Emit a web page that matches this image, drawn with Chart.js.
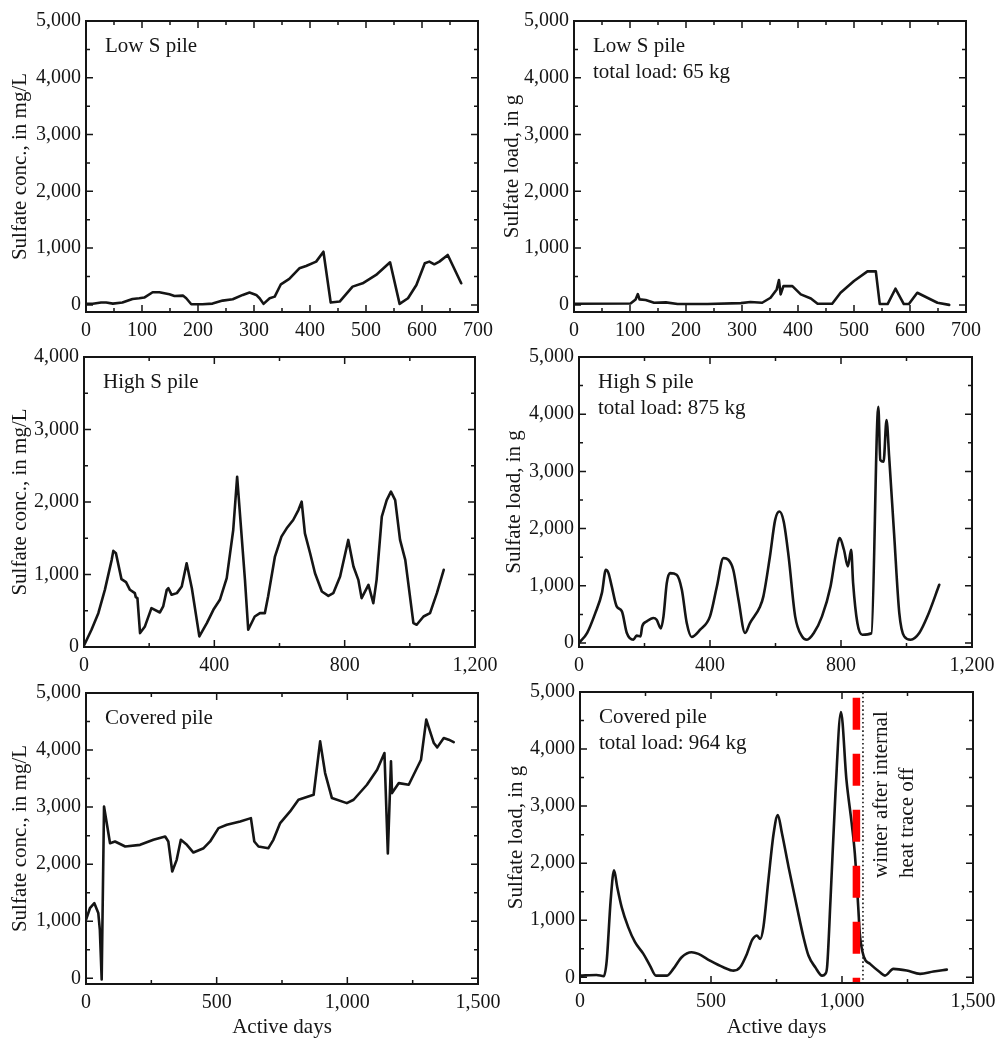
<!DOCTYPE html>
<html><head><meta charset="utf-8">
<script src="https://cdn.jsdelivr.net/npm/chart.js@4.4.1/dist/chart.umd.min.js"></script>
<style>
html,body{margin:0;padding:0;background:#fff;}
#wrap{position:relative;width:997px;height:1040px;overflow:hidden;background:#fff;}
canvas{position:absolute;}
</style></head><body><div id="wrap"></div>
<script>
// ---------- data ----------
const lowConcDay = [0, 12, 27, 36, 48, 65, 83, 95, 104, 119, 131, 149, 158, 173, 179, 188, 208, 226, 244, 262, 280, 292, 304, 310, 317, 328, 337, 348, 363, 381, 393, 411, 424, 437, 453, 476, 494, 518, 543, 560, 575, 590, 605, 613, 622, 631, 646, 670];
const lowConcVal = [20, 20, 41, 41, 23, 41, 105, 117, 129, 223, 223, 187, 158, 164, 117, 12, 12, 23, 76, 100, 176, 217, 176, 117, 18, 117, 146, 363, 457, 644, 685, 762, 937, 41, 59, 322, 381, 527, 750, 18, 117, 351, 732, 762, 715, 762, 879, 381];

const lowLoadDay = [0, 101, 110, 114, 117, 128, 143, 164, 185, 238, 298, 315, 336, 351, 362, 366, 369, 374, 390, 405, 423, 435, 461, 476, 500, 524, 539, 546, 560, 574, 589, 598, 613, 631, 649, 670];
const lowLoadVal = [20, 26, 97, 190, 97, 85, 38, 44, 15, 15, 32, 50, 38, 126, 273, 437, 185, 331, 331, 185, 114, 20, 20, 214, 420, 590, 590, 15, 15, 285, 15, 15, 214, 126, 38, 0];

const highConcDay = [0, 23, 44, 64, 85, 90, 98, 115, 129, 141, 156, 159, 164, 172, 187, 207, 233, 243, 254, 259, 269, 285, 300, 315, 331, 354, 377, 397, 417, 438, 458, 470, 494, 504, 524, 540, 555, 565, 586, 606, 622, 642, 658, 668, 678, 694, 709, 730, 750, 765, 786, 811, 827, 842, 852, 873, 888, 898, 914, 929, 942, 955, 970, 986, 1011, 1021, 1042, 1062, 1083, 1104];
const highConcVal = [20, 238, 467, 788, 1202, 1326, 1294, 936, 895, 789, 743, 688, 674, 192, 284, 536, 476, 559, 788, 811, 720, 743, 834, 1155, 811, 146, 330, 513, 651, 949, 1614, 2348, 926, 238, 421, 467, 467, 697, 1247, 1522, 1637, 1752, 1889, 2004, 1568, 1293, 1018, 766, 706, 743, 972, 1477, 1110, 926, 674, 858, 605, 926, 1798, 2027, 2142, 2027, 1477, 1202, 330, 307, 421, 467, 743, 1064];

const highLoadDay = [0, 25, 50, 70, 82, 90, 100, 115, 131, 146, 166, 176, 188, 193, 207, 227, 237, 250, 258, 268, 278, 298, 314, 329, 344, 370, 400, 421, 441, 456, 471, 487, 507, 522, 553, 563, 583, 599, 612, 625, 640, 660, 681, 696, 717, 742, 768, 783, 796, 809, 821, 831, 837, 850, 865, 893, 914, 920, 930, 939, 947, 962, 978, 993, 1013, 1039, 1064, 1100];
const highLoadVal = [0, 178, 527, 876, 1280, 1222, 989, 640, 553, 175, 58, 128, 116, 291, 378, 436, 407, 256, 466, 1047, 1222, 1193, 931, 349, 105, 233, 466, 989, 1484, 1455, 1280, 757, 175, 349, 640, 815, 1513, 2153, 2298, 2124, 1513, 466, 116, 58, 175, 466, 989, 1513, 1833, 1630, 1339, 1630, 1047, 349, 145, 170, 4130, 3200, 3170, 3897, 3257, 1921, 524, 116, 58, 175, 466, 1018];

const covConcDay = [0, 15, 32, 47, 53, 60, 69, 92, 111, 150, 207, 258, 303, 315, 330, 347, 363, 386, 411, 450, 475, 507, 539, 590, 631, 644, 660, 698, 717, 743, 781, 813, 871, 896, 915, 941, 998, 1024, 1075, 1114, 1142, 1155, 1167, 1171, 1197, 1235, 1282, 1302, 1331, 1344, 1369, 1388, 1407];
const covConcVal = [1023, 1228, 1316, 1146, 848, -20, 3011, 2368, 2398, 2310, 2339, 2427, 2485, 2398, 1871, 2076, 2427, 2339, 2204, 2280, 2398, 2632, 2690, 2749, 2807, 2398, 2310, 2280, 2427, 2720, 2924, 3129, 3217, 4153, 3597, 3158, 3070, 3129, 3392, 3655, 3948, 2187, 3801, 3246, 3421, 3392, 3831, 4533, 4123, 4047, 4211, 4182, 4140];

const covLoadDay = [0, 63, 91, 102, 117, 130, 142, 159, 184, 210, 242, 267, 290, 331, 356, 388, 426, 452, 496, 547, 586, 611, 637, 656, 665, 675, 688, 700, 719, 739, 755, 771, 796, 828, 853, 872, 898, 924, 936, 943, 956, 975, 996, 1017, 1037, 1049, 1062, 1068, 1084, 1107, 1145, 1164, 1196, 1247, 1298, 1349, 1400];
const covLoadVal = [30, 40, 20, 293, 1348, 1876, 1583, 1231, 879, 616, 410, 205, 29, 29, 147, 352, 440, 410, 293, 176, 117, 176, 410, 645, 703, 733, 674, 879, 1700, 2520, 2843, 2520, 1935, 1231, 703, 381, 176, 29, 59, 176, 1348, 3224, 4650, 3458, 2697, 2169, 1231, 763, 352, 235, 88, 30, 147, 118, 60, 100, 135];

// markers in the covered-pile load panel
const heatTraceOffDay = 1055;   // red dashed line
const winterStartDay = 1080;    // dotted line

// tick labels / tick positions
const ticksLowX = [0, 100, 200, 300, 400, 500, 600, 700];
const minorLowX = [50, 150, 250, 350, 450, 550, 650];
const ticksHighX = [0, 400, 800, 1200];
const minorHighX = [200, 600, 1000];
const ticksCovX = [0, 500, 1000, 1500];
const minorCovX = [250, 750, 1250];
const ticksY5000 = [0, 1000, 2000, 3000, 4000, 5000];
const minorY5000 = [500, 1500, 2500, 3500, 4500];
const ticksY4000 = [0, 1000, 2000, 3000, 4000];
const minorY4000 = [500, 1500, 2500, 3500];

// ---------- rendering ----------
const FONT = "'Liberation Serif','Times New Roman',serif";
const INK = '#151515';
const TXT = 21;
const fmt = v => Number(v).toLocaleString('en-US');
const toXY = (xs, ys) => xs.map((x, i) => ({x: x, y: ys[i]}));

const decoPlugin = {
  id: 'deco',
  afterDatasetsDraw(chart, args, o) {
    const {ctx, chartArea: a, scales: {x, y}} = chart;
    ctx.save();
    ctx.strokeStyle = INK;
    ctx.lineWidth = 1.5;
    ctx.beginPath();
    const xt = (vals, L) => vals.forEach(v => { const p = x.getPixelForValue(v);
      ctx.moveTo(p, a.bottom); ctx.lineTo(p, a.bottom - L); ctx.moveTo(p, a.top); ctx.lineTo(p, a.top + L); });
    const yt = (vals, L) => vals.forEach(v => { const p = y.getPixelForValue(v);
      ctx.moveTo(a.left, p); ctx.lineTo(a.left + L, p); ctx.moveTo(a.right, p); ctx.lineTo(a.right - L, p); });
    xt(o.xMajor, 7); xt(o.xMinor, 4); yt(o.yMajor, 7); yt(o.yMinor, 4);
    ctx.stroke();
    ctx.lineWidth = 2;
    ctx.strokeRect(a.left, a.top, a.right - a.left, a.bottom - a.top);
    ctx.fillStyle = INK;
    ctx.font = TXT + 'px ' + FONT;
    ctx.textAlign = 'left';
    ctx.textBaseline = 'alphabetic';
    o.lines.forEach((t, i) => ctx.fillText(t, a.left + 19, a.top + 31 + i * 26));
    if (o.rotLines) {
      const bx = x.getPixelForValue(winterStartDay);
      o.rotLines.forEach((t, i) => {
        ctx.save();
        ctx.translate(bx + 24 + i * 26.5, a.bottom - 105);
        ctx.rotate(-Math.PI / 2);
        ctx.fillText(t, 0, 0);
        ctx.restore();
      });
    }
    ctx.restore();
  }
};

function panel(p) {
  const c = document.createElement('canvas');
  c.width = p.w; c.height = p.h;
  c.style.left = p.left + 'px'; c.style.top = p.top + 'px';
  c.style.width = p.w + 'px'; c.style.height = p.h + 'px';
  document.getElementById('wrap').appendChild(c);
  const datasets = [{
    data: toXY(p.days, p.vals), borderColor: INK, borderWidth: 2.6, pointRadius: 0,
    tension: 0, cubicInterpolationMode: p.smooth ? 'monotone' : 'default', fill: false,
    borderJoinStyle: 'round', borderCapStyle: 'round', order: 3
  }];
  if (p.markers) {
    datasets.push({
      data: [{x: heatTraceOffDay, y: 4900}, {x: heatTraceOffDay, y: p.yMin}],
      borderColor: '#ff0000', borderWidth: 7.5, borderDash: [32, 24], pointRadius: 0, fill: false, order: 1
    });
    datasets.push({
      data: [{x: winterStartDay, y: 4990}, {x: winterStartDay, y: p.yMin}],
      borderColor: INK, borderWidth: 1.6, borderDash: [1.6, 2.6], pointRadius: 0, fill: false, order: 2
    });
  }
  const tickFont = {family: FONT, size: 20};
  new Chart(c, {
    type: 'line',
    data: {datasets: datasets},
    plugins: [decoPlugin],
    options: {
      responsive: false, animation: false, devicePixelRatio: 1,
      layout: {padding: {left: 0, right: p.pr, top: p.pt, bottom: 0}},
      plugins: {legend: {display: false}, tooltip: {enabled: false},
        deco: {xMajor: p.xTicks, xMinor: p.xMinor, yMajor: p.yTicks, yMinor: p.yMinor, lines: p.lines, rotLines: p.rotLines}},
      scales: {
        x: {
          type: 'linear', min: p.xMin, max: p.xMax,
          afterBuildTicks: s => { s.ticks = p.xTicks.map(v => ({value: v})); },
          afterFit: s => { s.height = p.hx; },
          grid: {display: false, drawTicks: false}, border: {display: false},
          ticks: {font: tickFont, color: INK, padding: 7, maxRotation: 0, autoSkip: false, callback: v => fmt(v)},
          title: {display: !!p.xTitle, text: p.xTitle || '', font: {family: FONT, size: TXT}, color: INK, padding: {top: 0, bottom: 0}}
        },
        y: {
          type: 'linear', min: p.yMin, max: p.yMax,
          afterBuildTicks: s => { s.ticks = p.yTicks.map(v => ({value: v})); },
          afterFit: s => { s.width = p.wy; },
          grid: {display: false, drawTicks: false}, border: {display: false},
          ticks: {font: tickFont, color: INK, padding: 5, autoSkip: false, callback: v => fmt(v)},
          title: {display: true, text: p.yTitle, font: {family: FONT, size: TXT}, color: INK, padding: {top: p.tp, bottom: 0}}
        }
      }
    }
  });
}

const concTitle = 'Sulfate conc., in mg/L';
const loadTitle = 'Sulfate load, in g';

panel({left: 0, top: 0, w: 520, h: 345, pt: 21, pr: 42, hx: 33, wy: 86, tp: 7.5,
  days: lowConcDay, vals: lowConcVal, xMin: 0, xMax: 700, yMin: -125, yMax: 5000,
  xTicks: ticksLowX, xMinor: minorLowX, yTicks: ticksY5000, yMinor: minorY5000,
  yTitle: concTitle, lines: ['Low S pile']});
panel({left: 497, top: 0, w: 520, h: 345, pt: 21, pr: 51, hx: 33, wy: 77, tp: 2.5,
  days: lowLoadDay, vals: lowLoadVal, xMin: 0, xMax: 700, yMin: -125, yMax: 5000,
  xTicks: ticksLowX, xMinor: minorLowX, yTicks: ticksY5000, yMinor: minorY5000,
  yTitle: loadTitle, lines: ['Low S pile', 'total load: 65 kg']});
panel({left: 0, top: 340, w: 520, h: 345, pt: 17, pr: 45, hx: 38, wy: 84, tp: 7.5,
  days: highConcDay, vals: highConcVal, xMin: 0, xMax: 1200, yMin: 0, yMax: 4000,
  xTicks: ticksHighX, xMinor: minorHighX, yTicks: ticksY4000, yMinor: minorY4000,
  yTitle: concTitle, lines: ['High S pile']});
panel({left: 497, top: 340, w: 520, h: 345, pt: 17, pr: 45, hx: 38, wy: 82, tp: 5,
  days: highLoadDay, vals: highLoadVal, xMin: 0, xMax: 1200, yMin: -70, yMax: 5000, smooth: true,
  xTicks: ticksHighX, xMinor: minorHighX, yTicks: ticksY5000, yMinor: minorY5000,
  yTitle: loadTitle, lines: ['High S pile', 'total load: 875 kg']});
panel({left: 0, top: 675, w: 520, h: 365, pt: 18, pr: 42, hx: 56, wy: 86, tp: 7.5,
  days: covConcDay, vals: covConcVal, xMin: 0, xMax: 1500, yMin: -100, yMax: 5000,
  xTicks: ticksCovX, xMinor: minorCovX, yTicks: ticksY5000, yMinor: minorY5000,
  yTitle: concTitle, xTitle: 'Active days', lines: ['Covered pile']});
panel({left: 497, top: 675, w: 520, h: 365, pt: 17, pr: 44, hx: 57, wy: 83, tp: 6.5,
  days: covLoadDay, vals: covLoadVal, xMin: 0, xMax: 1500, yMin: -100, yMax: 5000, smooth: true, markers: true,
  xTicks: ticksCovX, xMinor: minorCovX, yTicks: ticksY5000, yMinor: minorY5000,
  yTitle: loadTitle, xTitle: 'Active days', lines: ['Covered pile', 'total load: 964 kg'],
  rotLines: ['winter after internal', 'heat trace off']});
</script></body></html>
